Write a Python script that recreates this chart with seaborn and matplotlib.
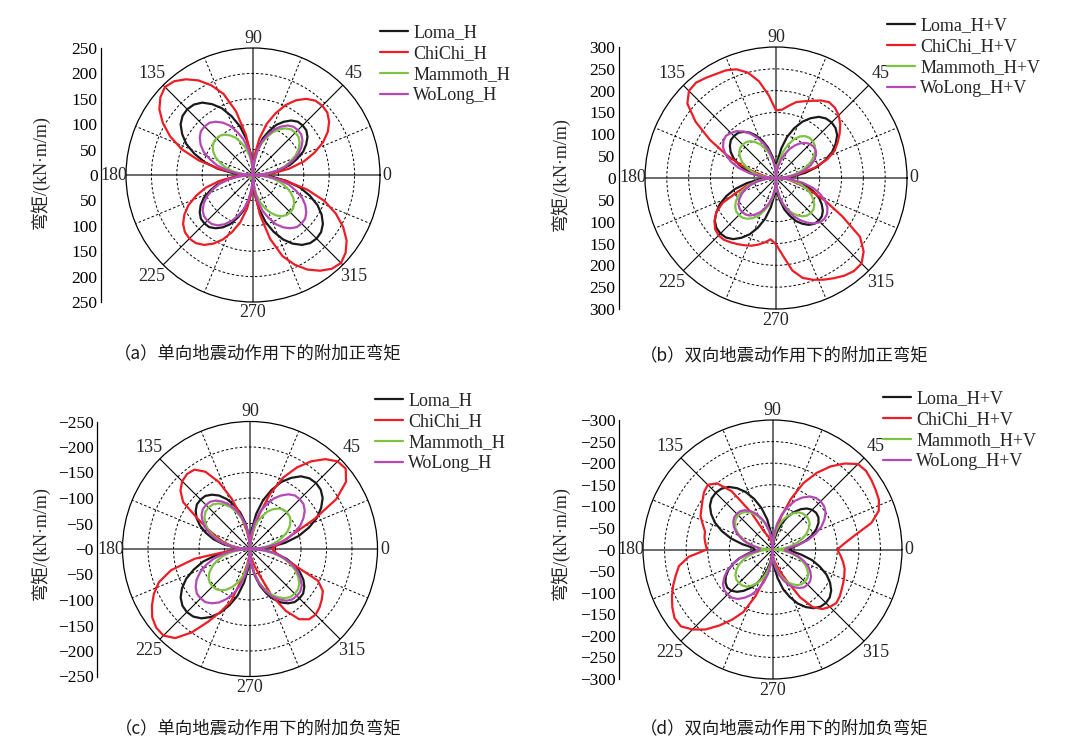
import numpy as np
import pandas as pd
import matplotlib
matplotlib.use("Agg")
import matplotlib.pyplot as plt
from matplotlib.lines import Line2D
import seaborn as sns

# ---------------- data (every 5 degrees) ----------------
ANGLES_DEG = list(range(0, 360, 5))

SERIES_H = ["Loma_H", "ChiChi_H", "Mammoth_H", "WoLong_H"]
SERIES_HV = ["Loma_H+V", "ChiChi_H+V", "Mammoth_H+V", "WoLong_H+V"]

# (a) positive moment, horizontal input
A_LOMA = [0, 29, 52, 75, 92, 109, 121, 131, 137, 138, 137, 131, 121, 109, 92, 75, 52, 29,
          0, 38, 70, 99, 123, 145, 161, 174, 181, 183, 181, 174, 161, 145, 123, 99, 70, 38,
          0, 28, 51, 73, 90, 107, 119, 128, 134, 135, 134, 128, 119, 107, 90, 73, 51, 28,
          0, 37, 67, 96, 119, 140, 156, 168, 175, 177, 175, 168, 156, 140, 119, 96, 67, 37]
A_CHICHI = [0, 41, 73, 104, 129, 152, 170, 183, 191, 193, 191, 183, 170, 152, 129, 104, 73, 41,
            0, 35, 80, 130, 170, 195, 215, 230, 241, 245, 238, 225, 205, 180, 150, 110, 65, 25,
            0, 37, 67, 96, 119, 140, 156, 168, 175, 177, 175, 168, 156, 140, 119, 96, 67, 37,
            0, 35, 80, 130, 170, 195, 215, 230, 241, 245, 238, 225, 205, 180, 150, 110, 65, 25]
A_MAMMOTH = [0, 25, 45, 64, 79, 93, 104, 112, 117, 118, 117, 112, 104, 93, 79, 64, 45, 25,
             0, 21, 39, 55, 68, 81, 90, 97, 101, 102, 101, 97, 90, 81, 68, 55, 39, 21,
             0, 2, 4, 5, 6, 7, 8, 8, 8, 8, 8, 8, 8, 7, 6, 5, 4, 2,
             0, 22, 40, 56, 70, 82, 92, 99, 103, 104, 103, 99, 92, 82, 70, 56, 40, 22]
A_WOLONG = [0, 26, 48, 68, 84, 99, 110, 119, 124, 125, 124, 119, 110, 99, 84, 68, 48, 26,
            0, 28, 51, 73, 90, 107, 119, 128, 134, 135, 134, 128, 119, 107, 90, 73, 51, 28,
            0, 27, 48, 69, 85, 100, 112, 121, 126, 127, 126, 121, 112, 100, 85, 69, 48, 27,
            0, 28, 51, 73, 90, 107, 119, 128, 134, 135, 134, 128, 119, 107, 90, 73, 51, 28]

# (b) positive moment, horizontal + vertical input
B_LOMA = [0, 38, 68, 97, 121, 142, 158, 171, 178, 180, 178, 171, 158, 142, 121, 97, 68, 38,
          34, 36, 52, 73, 91, 107, 120, 129, 135, 136, 135, 129, 120, 107, 91, 73, 52, 29,
          0, 38, 68, 97, 121, 142, 158, 171, 178, 180, 178, 171, 158, 142, 121, 97, 68, 38,
          36, 36, 52, 75, 92, 109, 121, 131, 137, 138, 137, 131, 121, 109, 92, 75, 52, 29]
B_CHICHI = [20, 30, 55, 92, 125, 148, 163, 178, 192, 203, 210, 212, 205, 195, 187, 180, 168, 157,
            155, 190, 225, 250, 265, 272, 275, 280, 285, 282, 265, 225, 175, 125, 85, 50, 28, 18,
            15, 25, 45, 70, 95, 135, 158, 172, 182, 186, 185, 180, 175, 170, 165, 158, 150, 141,
            152, 178, 215, 237, 248, 257, 265, 273, 278, 277, 262, 235, 175, 125, 85, 55, 35, 25]
B_MAMMOTH = [0, 20, 40, 58, 74, 88, 100, 110, 116, 119, 120, 117, 110, 98, 82, 62, 40, 18,
             0, 23, 41, 58, 72, 85, 95, 103, 107, 108, 107, 103, 95, 85, 72, 58, 41, 23,
             0, 25, 46, 65, 80, 95, 106, 114, 119, 120, 119, 114, 106, 95, 80, 65, 46, 25,
             0, 24, 43, 61, 76, 89, 99, 107, 112, 113, 112, 107, 99, 89, 76, 61, 43, 24]
B_WOLONG = [0, 28, 50, 68, 84, 97, 106, 111, 112, 110, 105, 97, 86, 73, 58, 42, 26, 10,
            0, 25, 45, 66, 85, 102, 117, 130, 140, 146, 150, 147, 140, 127, 110, 88, 60, 30,
            0, 23, 42, 59, 74, 87, 97, 105, 109, 110, 109, 105, 97, 87, 74, 59, 42, 23,
            0, 22, 42, 62, 80, 97, 112, 125, 136, 143, 145, 143, 136, 124, 108, 88, 62, 32]

# (c) negative moment, horizontal input (magnitudes)
C_LOMA = [0, 38, 70, 99, 123, 145, 161, 174, 181, 183, 181, 174, 161, 145, 123, 99, 70, 38,
          0, 29, 52, 74, 92, 108, 121, 130, 136, 137, 136, 130, 121, 108, 92, 74, 52, 29,
          0, 37, 67, 95, 117, 138, 154, 166, 173, 175, 173, 166, 154, 138, 117, 95, 67, 37,
          0, 29, 52, 74, 92, 108, 121, 130, 136, 137, 136, 130, 121, 108, 92, 74, 52, 29]
C_CHICHI = [43, 48, 58, 72, 95, 140, 195, 230, 245, 243, 230, 210, 185, 155, 115, 70, 35, 12,
            0, 15, 35, 65, 105, 145, 175, 190, 192, 188, 178, 160, 118, 90, 70, 55, 38, 20,
            10, 40, 110, 160, 190, 208, 222, 234, 240, 240, 228, 200, 165, 135, 110, 60, 30, 12,
            0, 10, 20, 35, 55, 100, 140, 168, 180, 182, 178, 172, 165, 147, 93, 68, 54, 48]
C_MAMMOTH = [0, 21, 39, 55, 68, 81, 90, 97, 101, 102, 101, 97, 90, 81, 68, 55, 39, 21,
             0, 24, 44, 62, 77, 91, 101, 109, 114, 115, 114, 109, 101, 91, 77, 62, 44, 24,
             0, 22, 40, 56, 70, 82, 92, 99, 103, 104, 103, 99, 92, 82, 70, 56, 40, 22,
             0, 26, 47, 67, 83, 98, 109, 118, 123, 124, 123, 118, 109, 98, 83, 67, 47, 26]
C_WOLONG = [0, 29, 52, 75, 92, 109, 121, 131, 137, 138, 137, 131, 121, 109, 92, 75, 52, 29,
            0, 26, 46, 66, 82, 96, 107, 116, 121, 122, 121, 116, 107, 96, 82, 66, 46, 26,
            0, 29, 52, 74, 92, 108, 121, 130, 136, 137, 136, 130, 121, 108, 92, 74, 52, 29,
            0, 27, 49, 70, 87, 103, 114, 124, 129, 130, 129, 124, 114, 103, 87, 70, 49, 27]

# (d) negative moment, horizontal + vertical input (magnitudes)
D_LOMA = [40, 45, 60, 80, 98, 112, 123, 130, 132, 130, 124, 114, 100, 84, 66, 45, 25, 10,
          0, 39, 71, 100, 125, 147, 164, 177, 184, 186, 184, 177, 164, 147, 125, 100, 71, 45,
          41, 45, 60, 80, 98, 113, 125, 133, 137, 135, 128, 117, 103, 87, 70, 50, 30, 12,
          0, 37, 67, 95, 117, 138, 154, 166, 173, 175, 173, 166, 154, 138, 117, 95, 67, 45]
D_CHICHI = [150, 168, 195, 237, 262, 272, 276, 280, 283, 280, 260, 235, 205, 170, 125, 80, 45, 25,
            12, 15, 20, 28, 35, 45, 100, 165, 200, 212, 207, 198, 190, 184, 172, 162, 160, 156,
            152, 195, 220, 232, 245, 257, 268, 277, 277, 262, 242, 215, 188, 160, 115, 70, 40, 25,
            15, 20, 28, 40, 58, 82, 128, 163, 180, 188, 193, 190, 185, 181, 177, 173, 166, 158]
D_MAMMOTH = [0, 23, 42, 59, 74, 87, 97, 105, 109, 110, 109, 105, 97, 87, 74, 59, 42, 23,
             0, 24, 43, 60, 75, 88, 99, 106, 111, 112, 111, 106, 99, 88, 75, 60, 43, 24,
             0, 23, 42, 59, 74, 87, 97, 105, 109, 110, 109, 105, 97, 87, 74, 59, 42, 23,
             0, 22, 40, 57, 71, 84, 93, 101, 105, 106, 105, 101, 93, 84, 71, 57, 40, 22]
D_WOLONG = [30, 35, 60, 85, 106, 125, 139, 150, 156, 158, 156, 150, 139, 125, 106, 85, 60, 33,
            0, 25, 44, 63, 78, 92, 103, 111, 116, 117, 116, 111, 103, 92, 78, 63, 44, 30,
            30, 33, 56, 79, 98, 116, 129, 140, 146, 147, 146, 140, 129, 116, 98, 79, 56, 31,
            0, 24, 44, 62, 77, 91, 101, 109, 114, 115, 114, 109, 101, 91, 77, 62, 44, 30]

CAPTIONS = ["（a）单向地震动作用下的附加正弯矩",
            "（b）双向地震动作用下的附加正弯矩",
            "（c）单向地震动作用下的附加负弯矩",
            "（d）双向地震动作用下的附加负弯矩"]
Y_LABEL = "弯矩/(kN·m/m)"

# ---------------- style / layout ----------------
sns.set_theme(style="white")
plt.rcParams["font.family"] = ["Liberation Serif", "Noto Sans CJK SC", "DejaVu Sans"]
plt.rcParams["axes.unicode_minus"] = True

COLORS = ["#1a1a1a", "#ee1c25", "#7dc242", "#b548b5"]
FS = 13
W, H = 1073, 753

PANELS = [
    dict(cx=253, cy=175, R=127, rmax=250, sx=101, neg=False, leg=(380, 24.5),
         ylab=(40, 172), cap=(258, 353), names=SERIES_H,
         data=[A_LOMA, A_CHICHI, A_MAMMOTH, A_WOLONG], caption=CAPTIONS[0]),
    dict(cx=776, cy=178, R=131, rmax=300, sx=619, neg=False, leg=(887, 17),
         ylab=(560, 174), cap=(784, 355), names=SERIES_HV,
         data=[B_LOMA, B_CHICHI, B_MAMMOTH, B_WOLONG], caption=CAPTIONS[1]),
    dict(cx=250, cy=549, R=127.5, rmax=250, sx=97, neg=True, leg=(375, 392),
         ylab=(40, 543), cap=(258, 728), names=SERIES_H,
         data=[C_LOMA, C_CHICHI, C_MAMMOTH, C_WOLONG], caption=CAPTIONS[2]),
    dict(cx=772.5, cy=549.5, R=129.5, rmax=300, sx=619, neg=True, leg=(883, 390.5),
         ylab=(560, 543), cap=(784, 728), names=SERIES_HV,
         data=[D_LOMA, D_CHICHI, D_MAMMOTH, D_WOLONG], caption=CAPTIONS[3]),
]

ANGLE_LABEL_R = {0: 1.055, 45: 1.125, 90: 1.075, 135: 1.125,
                 180: 1.095, 225: 1.125, 270: 1.085, 315: 1.125}

fig = plt.figure(figsize=(W / 100, H / 100), dpi=100)
fig.patch.set_facecolor("white")


def fx(x):
    return x / W


def fy(y):
    return 1 - y / H


for p in PANELS:
    cx, cy, R, rmax = p["cx"], p["cy"], p["R"], p["rmax"]
    ax = fig.add_axes([fx(cx - R), fy(cy + R), 2 * R / W, 2 * R / H], projection="polar")
    ax.set_facecolor("white")

    rows = []
    for name, vals in zip(p["names"], p["data"]):
        for a, v in zip(ANGLES_DEG + [360], vals + vals[:1]):
            rows.append((name, np.deg2rad(a), v))
    df = pd.DataFrame(rows, columns=["series", "theta", "r"])
    sns.lineplot(data=df, x="theta", y="r", hue="series", hue_order=p["names"],
                 palette=COLORS, sort=False, estimator=None, lw=1.6, ax=ax, legend=False)
    ax.set_xlabel("")
    ax.set_ylabel("")

    ax.set_ylim(0, rmax)
    ax.set_rgrids(np.arange(50, rmax, 50))
    ax.set_yticklabels([])
    ax.set_thetagrids(np.arange(0, 360, 22.5))
    ax.set_xticklabels([])
    ax.tick_params(length=0)
    ax.grid(True)
    for i, gl in enumerate(ax.xaxis.get_gridlines()):
        ang = i * 22.5
        if ang % 90 == 0:
            gl.set(color="#6a6a6a", lw=1.4, ls="-")
        elif ang % 45 == 0:
            gl.set(color="black", lw=0.8, ls="-")
        else:
            gl.set(color="black", lw=0.7, ls=(0, (2.6, 2.2)))
    for gl in ax.yaxis.get_gridlines():
        gl.set(color="black", lw=0.7, ls=(0, (2.6, 2.2)))
    ax.spines["polar"].set(color="black", lw=0.9)

    for a, k in ANGLE_LABEL_R.items():
        ax.text(np.deg2rad(a), rmax * k, str(a), ha="center", va="center",
                fontsize=FS, clip_on=False)

    handles = [Line2D([], [], color=c, lw=1.6) for c in COLORS]
    ax.legend(handles, p["names"], loc="upper left",
              bbox_to_anchor=(fx(p["leg"][0]), fy(p["leg"][1])),
              bbox_transform=fig.transFigure, frameon=False, fontsize=FS,
              handlelength=1.55, handletextpad=0.3, labelspacing=0.22,
              borderpad=0, borderaxespad=0)

    # radial scale on the left
    sax = fig.add_axes([fx(p["sx"]), fy(cy + R), 0.0001, 2 * R / H])
    sax.patch.set_alpha(0)
    sax.set_ylim(-rmax, rmax)
    sax.set_xticks([])
    for s in ["top", "right", "bottom"]:
        sax.spines[s].set_visible(False)
    sax.spines["left"].set(color="black", lw=0.9)
    ticks = np.arange(-rmax, rmax + 1, 50)
    sax.set_yticks(ticks)
    if p["neg"]:
        labels = ["\u2212" + str(abs(t)) for t in ticks]
    else:
        labels = [str(abs(t)) for t in ticks]
    sax.set_yticklabels(labels)
    sax.set_yticks(np.arange(-rmax + 25, rmax, 50), minor=True)
    sax.tick_params(axis="y", which="major", direction="in", length=5, width=0.9,
                    labelsize=12.5, pad=2.5, colors="black")
    sax.tick_params(axis="y", which="minor", direction="in", length=3, width=0.8)

    fig.text(fx(p["ylab"][0]), fy(p["ylab"][1]), Y_LABEL, rotation=90,
             ha="center", va="center", fontsize=FS)
    fig.text(fx(p["cap"][0]), fy(p["cap"][1]), p["caption"], ha="center", va="center",
             fontsize=12.5, family=["Noto Sans CJK SC"], fontweight="light",
             color="#1a1a1a")

fig.savefig("out.png", dpi=100)
